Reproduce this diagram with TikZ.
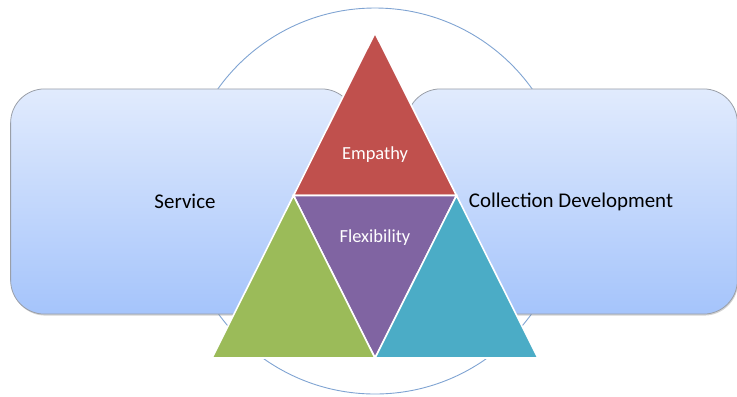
\documentclass[tikz,border=0pt]{standalone}
\usepackage{fontspec}
\setmainfont{Carlito}
\usetikzlibrary{shadows}
\definecolor{ringblue}{HTML}{7FA3D2}
\definecolor{boxtop}{HTML}{E1EBFD}
\definecolor{boxbottom}{HTML}{A5C4FB}
\definecolor{boxline}{HTML}{9A9FA8}
\definecolor{empred}{HTML}{C0504D}
\definecolor{flexpurple}{HTML}{8064A2}
\definecolor{leafgreen}{HTML}{9BBB59}
\definecolor{seateal}{HTML}{4BACC6}
\tikzset{
  areabox/.style={draw=boxline,line width=0.8pt,rounded corners=34,top color=boxtop,bottom color=boxbottom,
    drop shadow={shadow xshift=0.8pt,shadow yshift=-1.5pt,opacity=0.35},
    minimum height=226,font=\fontsize{21}{24}\selectfont,text=black,inner sep=0pt},
  facet/.style={draw=white,line width=1.6pt,line join=miter},
  facetlabel/.style={text=white,font=\fontsize{18.5}{21}\selectfont,inner sep=0pt}
}
\begin{document}
\begin{tikzpicture}[x=1bp,y=-1bp]
			\useasboundingbox (0,0) rectangle (737,396);
			\draw [color=ringblue,line width=0.9pt] (375,201) circle (193);
			
			\node [areabox,minimum width=346] (service) at (183,201.5) {\hspace*{4bp}Service};
			\node [areabox,minimum width=332] (collection) at (572,201.5) {\hspace*{-2bp}Collection Development};
			
			\coordinate (apex) at (375,33);
			\coordinate (midleft) at (293.5,195.5);
			\coordinate (midright) at (456.5,195.5);
			\coordinate (baseleft) at (212,358);
			\coordinate (basemid) at (375,358);
			\coordinate (baseright) at (538,358);
			
			\filldraw [facet,fill=empred] (apex) -- (midright) -- (midleft) -- cycle;
			\filldraw [facet,fill=flexpurple] (midleft) -- (midright) -- (basemid) -- cycle;
			\filldraw [facet,fill=leafgreen] (midleft) -- (basemid) -- (baseleft) -- cycle;
			\filldraw [facet,fill=seateal] (midright) -- (baseright) -- (basemid) -- cycle;
			
			\node [facetlabel] (empathy) at (375,155) {Empathy};
			\node [facetlabel] (flexibility) at (375,237.5) {Flexibility};
		\end{tikzpicture}
\end{document}
